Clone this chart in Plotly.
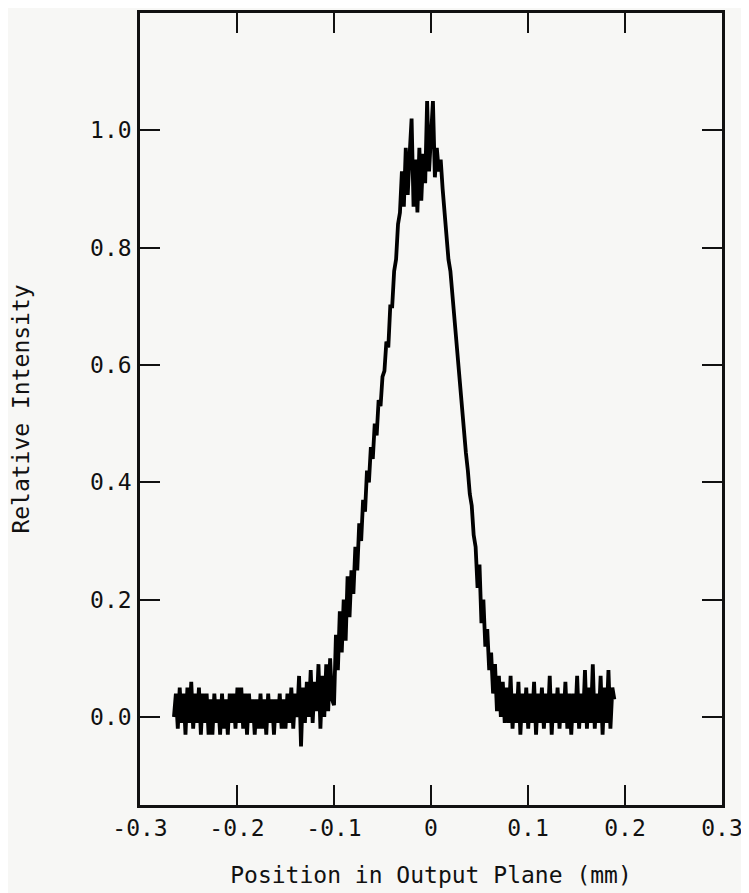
import numpy as np
import plotly.graph_objects as go

# Segment x-ranges (mm) and intensity readings sampled evenly within each
seg_left_x = (-0.265, -0.150)
seg_left_y = [0.00, 0.04, -0.02, 0.05, -0.01, 0.04, -0.03, 0.05, -0.01, 0.06, -0.02, 0.04, -0.01, 0.05,
              -0.03, 0.04, -0.01, 0.04, -0.03, 0.03, -0.03, 0.04, -0.01, 0.03, -0.03, 0.04, -0.02, 0.03,
              -0.03, 0.04, -0.01, 0.04, -0.02, 0.05, -0.01, 0.05, -0.02, 0.04, -0.03, 0.04, -0.01, 0.03,
              -0.03, 0.03, -0.02, 0.04, -0.02, 0.03, -0.03, 0.04, -0.01, 0.03, -0.03, 0.03, -0.01, 0.04,
              -0.02, 0.03]

seg_foot_x = (-0.150, -0.100)
seg_foot_y = [-0.02, 0.04, -0.01, 0.05, -0.02, 0.04, 0.00, 0.07, -0.05, 0.05, -0.01, 0.06, 0.00, 0.08,
              -0.01, 0.06, 0.01, 0.09, -0.02, 0.07, 0.00, 0.09, 0.01, 0.10, 0.03]

seg_rise_x = (-0.100, -0.030)
seg_rise_y = [0.02, 0.14, 0.08, 0.18, 0.11, 0.20, 0.13, 0.24, 0.17, 0.25, 0.21, 0.29, 0.25, 0.33,
              0.30, 0.37, 0.35, 0.42, 0.40, 0.46, 0.44, 0.50, 0.48, 0.54, 0.53, 0.58, 0.59, 0.64,
              0.63, 0.70, 0.70, 0.76, 0.78, 0.84, 0.86]

seg_peak_x = (-0.030, 0.010)
seg_peak_y = [0.93, 0.87, 0.97, 0.89, 0.96, 1.02, 0.87, 0.95, 0.86, 0.97, 0.88, 0.96, 0.91, 1.05,
              0.93, 0.99, 1.05, 0.92, 0.97, 0.93]

seg_fall_x = (0.010, 0.076)
seg_fall_y = [0.95, 0.90, 0.86, 0.82, 0.78, 0.76, 0.72, 0.69, 0.64, 0.61, 0.57, 0.53, 0.49, 0.45,
              0.42, 0.38, 0.36, 0.31, 0.29, 0.22, 0.26, 0.16, 0.20, 0.12, 0.15, 0.08, 0.11, 0.04,
              0.09, 0.01, 0.07, 0.00, 0.06]

seg_right_x = (0.076, 0.189)
seg_right_y = [-0.01, 0.05, -0.01, 0.07, -0.02, 0.04, -0.01, 0.06, -0.03, 0.04, -0.01, 0.05, -0.02, 0.04,
               -0.01, 0.06, -0.03, 0.04, -0.01, 0.05, -0.02, 0.04, -0.01, 0.07, -0.03, 0.04, -0.01, 0.05,
               -0.02, 0.04, -0.01, 0.06, -0.02, 0.04, -0.03, 0.04, -0.01, 0.07, -0.02, 0.04, -0.01, 0.08,
               -0.02, 0.05, -0.01, 0.09, -0.02, 0.04, -0.01, 0.07, -0.03, 0.05, -0.01, 0.08, -0.02, 0.05,
               0.03]

x_tick_vals = [-0.3, -0.2, -0.1, 0.0, 0.1, 0.2, 0.3]
x_tick_text = ["-0.3", "-0.2", "-0.1", "0", "0.1", "0.2", "0.3"]
y_tick_vals = [0.0, 0.2, 0.4, 0.6, 0.8, 1.0]
y_tick_text = ["0.0", "0.2", "0.4", "0.6", "0.8", "1.0"]

segments = [(seg_left_x, seg_left_y), (seg_foot_x, seg_foot_y), (seg_rise_x, seg_rise_y),
            (seg_peak_x, seg_peak_y), (seg_fall_x, seg_fall_y), (seg_right_x, seg_right_y)]
xs, ys = [], []
for k, ((x0, x1), yv) in enumerate(segments):
    last = k == len(segments) - 1
    xs.extend(np.linspace(x0, x1, len(yv), endpoint=last).tolist())
    ys.extend(yv)

FONT = "DejaVu Sans Mono"
INK = "#111111"
fig = go.Figure()
fig.add_trace(go.Scatter(x=xs, y=ys, mode="lines",
                         line=dict(color="black", width=3.8), showlegend=False))

# page body has an 8px margin, so the figure is 8px smaller and shifted
fig.update_layout(
    width=741, height=885,
    margin=dict(l=132, r=27, t=5, b=88),
    paper_bgcolor="#f7f7f5", plot_bgcolor="#f7f7f5",
    font=dict(family=FONT, size=23, color=INK),
)
fig.update_xaxes(range=[-0.3, 0.3], tickvals=x_tick_vals, ticktext=x_tick_text,
                 ticks="inside", ticklen=20, tickwidth=2, tickcolor=INK,
                 showline=True, linewidth=2.5, linecolor=INK, mirror="ticks",
                 showgrid=False, zeroline=False, ticklabelstandoff=1, automargin=False,
                 title=dict(text="Position in Output Plane (mm)", standoff=27,
                            font=dict(family=FONT, size=23)))
fig.update_yaxes(range=[-0.15, 1.2], tickvals=y_tick_vals, ticktext=y_tick_text,
                 ticks="inside", ticklen=20, tickwidth=2, tickcolor=INK,
                 showline=True, linewidth=2.5, linecolor=INK, mirror="ticks",
                 showgrid=False, zeroline=False, ticklabelstandoff=1, automargin=False,
                 title=dict(text="Relative Intensity", standoff=56,
                            font=dict(family=FONT, size=23)))

fig.write_html("out.html")
